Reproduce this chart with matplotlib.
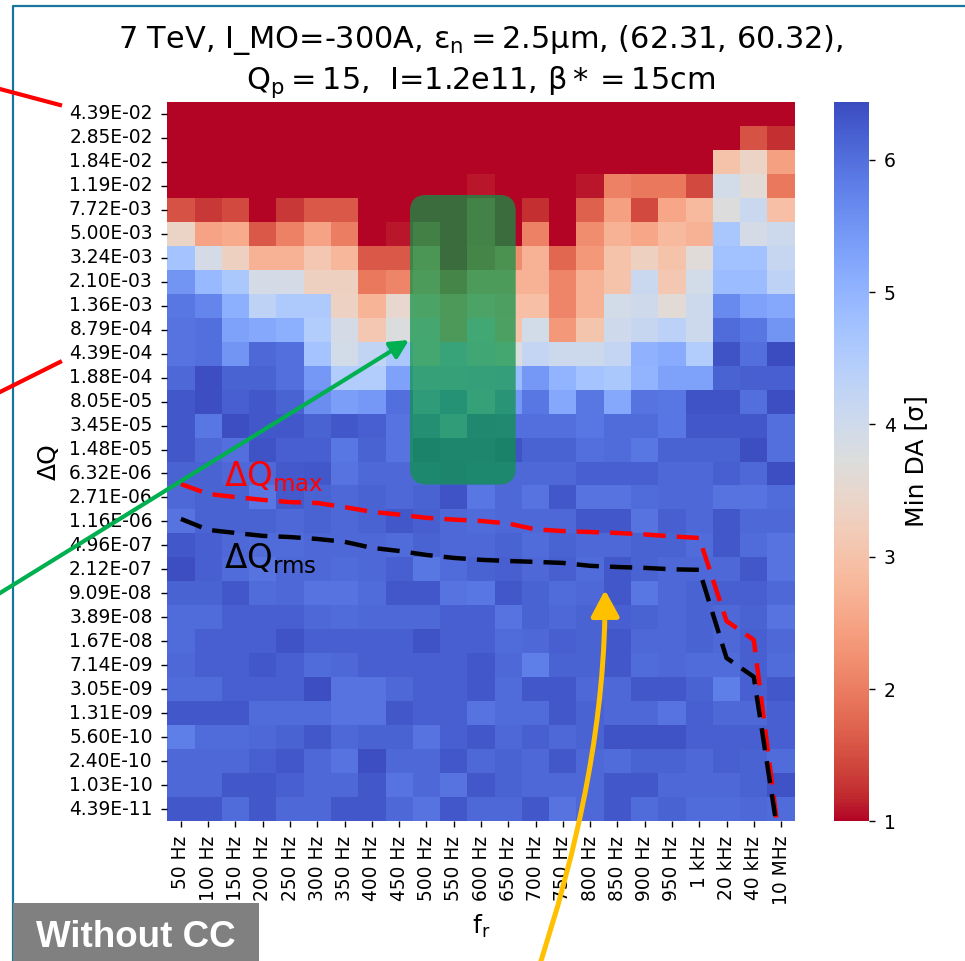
import numpy as np
import matplotlib
matplotlib.use("Agg")
import matplotlib.pyplot as plt
import seaborn as sns
from matplotlib.patches import FancyBboxPatch, FancyArrowPatch, Rectangle
from matplotlib.path import Path
from matplotlib.lines import Line2D

plt.rcParams["mathtext.default"] = "regular"

# ---------------- data ----------------
freq_labels = ["50 Hz", "100 Hz", "150 Hz", "200 Hz", "250 Hz", "300 Hz", "350 Hz",
               "400 Hz", "450 Hz", "500 Hz", "550 Hz", "600 Hz", "650 Hz", "700 Hz",
               "750 Hz", "800 Hz", "850 Hz", "900 Hz", "950 Hz", "1 kHz", "20 kHz",
               "40 kHz", "10 MHz"]

dq_values = [4.39e-2, 2.85e-2, 1.84e-2, 1.19e-2, 7.72e-3, 5.00e-3, 3.24e-3, 2.10e-3,
             1.36e-3, 8.79e-4, 4.39e-4, 1.88e-4, 8.05e-5, 3.45e-5, 1.48e-5, 6.32e-6,
             2.71e-6, 1.16e-6, 4.96e-7, 2.12e-7, 9.09e-8, 3.89e-8, 1.67e-8, 7.14e-9,
             3.05e-9, 1.31e-9, 5.60e-10, 2.40e-10, 1.03e-10, 4.39e-11]

# Min DA [sigma], rows follow dq_values (top to bottom), columns follow freq_labels
min_da = [
    [1.0, 1.0, 1.0, 1.0, 1.0, 1.0, 1.0, 1.0, 1.0, 1.0, 1.0, 1.0, 1.0, 1.0, 1.0, 1.0, 1.0, 1.0, 1.0, 1.0, 1.0, 1.0, 1.0],
    [1.0, 1.0, 1.0, 1.0, 1.0, 1.0, 1.0, 1.0, 1.0, 1.0, 1.0, 1.0, 1.0, 1.0, 1.0, 1.0, 1.0, 1.0, 1.0, 1.0, 1.0, 1.55, 1.25],
    [1.0, 1.0, 1.0, 1.0, 1.0, 1.0, 1.0, 1.0, 1.0, 1.0, 1.0, 1.0, 1.0, 1.0, 1.0, 1.0, 1.0, 1.0, 1.0, 1.0, 3.0, 3.4, 2.45],
    [1.0, 1.0, 1.0, 1.0, 1.0, 1.0, 1.0, 1.0, 1.0, 1.0, 1.0, 1.1, 1.0, 1.0, 1.0, 1.1, 2.05, 1.95, 1.95, 1.45, 3.95, 3.6, 1.95],
    [1.55, 1.3, 1.45, 1.0, 1.3, 1.6, 1.6, 1.0, 1.0, 1.0, 1.0, 1.6, 1.0, 1.25, 1.0, 1.7, 2.45, 1.45, 2.55, 2.85, 3.7, 4.1, 2.95],
    [3.4, 2.5, 2.6, 1.6, 2.05, 2.5, 2.0, 1.0, 1.1, 1.5, 1.0, 1.6, 1.0, 2.05, 1.0, 2.2, 2.7, 2.55, 2.85, 2.7, 4.65, 3.9, 4.05],
    [4.7, 3.9, 3.3, 2.7, 2.7, 3.1, 2.8, 1.6, 1.6, 2.4, 1.0, 1.7, 2.2, 2.7, 1.75, 2.35, 3.0, 3.3, 3.0, 3.65, 4.75, 4.75, 4.15],
    [5.5, 4.9, 4.6, 3.9, 3.9, 3.3, 3.3, 1.95, 2.1, 2.7, 1.7, 2.7, 2.7, 2.7, 2.1, 2.7, 3.0, 4.1, 3.1, 3.95, 4.85, 4.85, 4.3],
    [5.9, 5.7, 5.1, 4.3, 4.55, 4.55, 3.35, 2.75, 3.5, 3.2, 2.6, 3.2, 2.95, 2.95, 2.1, 2.7, 3.95, 4.0, 3.6, 4.05, 5.65, 5.3, 5.2],
    [5.95, 6.0, 5.3, 5.2, 5.1, 4.5, 3.9, 3.1, 3.75, 3.7, 2.6, 4.0, 3.0, 3.95, 2.35, 3.05, 4.0, 4.15, 4.35, 4.05, 6.05, 5.9, 5.5],
    [5.95, 6.0, 5.5, 6.1, 6.0, 4.7, 3.95, 4.25, 4.6, 3.8, 4.6, 4.1, 3.75, 4.2, 4.05, 4.05, 4.2, 5.05, 5.15, 4.5, 6.35, 6.0, 6.45],
    [6.1, 6.4, 6.15, 6.15, 6.0, 5.45, 4.5, 4.5, 5.3, 4.7, 4.7, 4.8, 4.85, 5.45, 5.0, 4.7, 4.6, 5.0, 5.3, 5.3, 6.15, 6.2, 6.2],
    [6.3, 6.4, 6.2, 6.3, 6.15, 5.6, 5.35, 5.45, 6.0, 5.1, 5.6, 4.7, 5.45, 5.9, 5.2, 5.9, 5.2, 5.95, 5.9, 6.35, 6.35, 6.0, 6.4],
    [6.3, 5.9, 6.4, 6.3, 6.3, 6.15, 6.3, 6.2, 5.95, 5.7, 5.0, 6.05, 6.0, 6.0, 6.0, 5.9, 6.05, 6.05, 5.9, 6.3, 6.3, 6.3, 6.0],
    [6.3, 6.1, 6.0, 6.35, 6.2, 6.2, 5.9, 6.15, 5.95, 6.3, 6.15, 6.15, 6.35, 6.15, 6.15, 6.0, 6.05, 5.9, 6.15, 6.15, 6.15, 6.4, 6.0],
    [6.15, 6.15, 6.1, 6.1, 6.25, 6.3, 5.95, 6.1, 6.1, 6.1, 6.2, 6.1, 6.1, 6.1, 6.1, 6.2, 6.2, 6.2, 6.1, 6.1, 6.2, 6.1, 6.4],
    [6.1, 6.15, 6.15, 5.9, 6.25, 6.15, 6.1, 6.15, 6.1, 6.15, 6.35, 5.9, 6.1, 5.95, 6.3, 5.95, 5.95, 6.05, 6.1, 6.1, 5.95, 5.95, 6.05],
    [5.95, 6.15, 6.15, 6.15, 6.1, 6.15, 6.1, 6.15, 6.3, 6.2, 6.1, 6.05, 6.1, 6.1, 6.1, 6.3, 6.3, 5.95, 6.2, 6.1, 6.3, 6.1, 6.1],
    [6.3, 6.2, 6.1, 6.05, 6.05, 6.1, 6.1, 6.1, 6.05, 6.15, 6.1, 6.1, 6.15, 6.05, 6.15, 6.1, 6.1, 6.15, 6.15, 6.05, 6.3, 6.05, 5.95],
    [6.4, 6.2, 6.05, 5.95, 6.1, 6.1, 6.05, 6.1, 6.2, 5.9, 6.05, 6.15, 6.2, 6.1, 6.2, 6.05, 6.3, 6.15, 6.1, 6.1, 6.1, 6.3, 5.95],
    [6.15, 6.15, 6.3, 6.05, 6.1, 5.95, 5.95, 6.05, 6.3, 6.3, 5.95, 5.9, 6.3, 6.15, 6.05, 6.1, 6.3, 5.9, 6.1, 6.15, 6.2, 6.2, 6.1],
    [6.05, 6.05, 6.2, 6.2, 6.2, 6.1, 6.05, 6.1, 6.1, 6.1, 6.2, 6.2, 5.95, 6.15, 6.1, 6.15, 6.2, 6.15, 6.1, 6.15, 6.1, 6.15, 5.95],
    [6.05, 6.2, 6.2, 6.2, 6.35, 6.2, 6.2, 6.2, 6.2, 6.35, 6.2, 6.2, 6.05, 6.1, 6.2, 6.15, 6.3, 6.1, 6.1, 6.15, 6.1, 6.2, 6.1],
    [6.1, 6.2, 6.2, 6.3, 6.2, 6.05, 6.1, 6.2, 6.2, 6.2, 6.2, 6.3, 6.1, 5.8, 6.15, 6.15, 6.3, 6.05, 6.1, 6.05, 6.05, 6.2, 6.05],
    [6.05, 6.05, 6.2, 6.2, 6.2, 6.4, 5.95, 5.95, 6.1, 6.2, 6.2, 6.3, 6.05, 6.3, 6.3, 6.1, 6.1, 6.3, 6.3, 6.15, 5.8, 6.2, 6.3],
    [6.3, 6.3, 6.3, 6.05, 6.05, 6.05, 5.95, 5.95, 6.3, 6.2, 6.2, 5.95, 6.05, 6.05, 6.3, 6.15, 6.1, 6.1, 5.95, 6.2, 6.1, 6.1, 6.2],
    [5.8, 6.05, 6.05, 6.1, 6.15, 6.3, 6.1, 6.15, 6.15, 5.95, 6.2, 6.3, 6.1, 6.2, 6.1, 6.15, 6.35, 6.35, 6.35, 6.2, 6.2, 6.2, 6.2],
    [6.1, 6.1, 6.1, 6.2, 6.3, 6.1, 5.95, 6.4, 6.1, 6.1, 6.3, 6.1, 6.15, 6.1, 6.3, 6.1, 6.05, 6.15, 6.15, 6.1, 6.2, 6.15, 6.05],
    [6.1, 6.1, 6.3, 6.3, 6.2, 6.1, 6.1, 6.3, 5.95, 6.1, 5.95, 6.3, 6.15, 6.1, 6.1, 6.1, 6.3, 6.3, 6.1, 6.1, 6.1, 6.15, 6.35],
    [6.3, 6.3, 6.05, 6.3, 6.1, 6.1, 6.3, 6.3, 6.1, 5.95, 6.3, 6.1, 6.1, 6.3, 5.95, 6.1, 6.3, 6.05, 6.15, 6.05, 6.05, 6.1, 6.05],
]

# tune-shift curves (one value per frequency column)
dq_max = [4.35e-6, 3.07e-6, 2.75e-6, 2.49e-6, 2.30e-6, 2.23e-6, 1.93e-6, 1.63e-6,
          1.48e-6, 1.32e-6, 1.24e-6, 1.18e-6, 1.08e-6, 8.76e-7, 8.26e-7, 7.98e-7,
          7.72e-7, 7.33e-7, 6.85e-7, 6.46e-7, 3.43e-8, 1.76e-8, 8.8e-12]
dq_rms = [1.27e-6, 8.61e-7, 7.72e-7, 6.97e-7, 6.68e-7, 6.24e-7, 5.64e-7, 4.56e-7,
          4.08e-7, 3.54e-7, 3.19e-7, 2.98e-7, 2.86e-7, 2.77e-7, 2.67e-7, 2.41e-7,
          2.31e-7, 2.24e-7, 2.13e-7, 2.09e-7, 9.30e-9, 4.76e-9, 8.8e-12]

# ---------------- figure ----------------
W, H = 965, 961
fig = plt.figure(figsize=(W / 100, H / 100), dpi=100)


def fx(px):
    return px / W


def fy(py):
    return 1 - py / H


ax = fig.add_axes([fx(167.3), fy(821.3), fx(794.7) - fx(167.3), fy(101.7) - fy(821.3)])
cax = fig.add_axes([fx(834), fy(821.3), fx(869.3) - fx(834), fy(101.7) - fy(821.3)])

sns.heatmap(np.array(min_da), ax=ax, cbar_ax=cax, cmap="coolwarm_r", vmin=1, vmax=6.44,
            xticklabels=freq_labels, yticklabels=[f"{v:.2E}" for v in dq_values],
            cbar_kws={"label": "Min DA [σ]"})

ax.tick_params(axis="both", labelsize=13.4, length=4.5, width=1, pad=6)
plt.setp(ax.get_xticklabels(), rotation=90)
plt.setp(ax.get_yticklabels(), rotation=0)
ax.set_xlabel(r"$f_r$", fontsize=18, labelpad=5)
ax.set_ylabel("ΔQ", fontsize=18, labelpad=6)
cax.tick_params(labelsize=13.5, length=4.5, width=1, pad=6)
cax.yaxis.label.set_size(18)
cax.yaxis.labelpad = 6

ax.set_title("7 TeV, I_MO=-300A, $\\epsilon_n = 2.5\\mu$m, (62.31, 60.32),\n"
             "$Q_p = 15$,  I=1.2e11, $\\beta* = 15$cm",
             fontsize=21.9, y=(821.3 - 89) / 719.6, pad=0, va="baseline",
             linespacing=1.31)

# map tune shift values onto the heatmap's row axis (log interpolation on tick values)
log_lab = np.log10(dq_values)
step = log_lab[-1] - log_lab[-2]
xp = np.concatenate([log_lab, [log_lab[-1] + 5 * step]])[::-1]
fp = np.concatenate([np.arange(len(log_lab)) + 0.5, [len(log_lab) - 0.5 + 5]])[::-1]


def dq_to_row(v):
    return np.interp(np.log10(v), xp, fp)


cols = np.arange(len(freq_labels)) + 0.5
ax.plot(cols, dq_to_row(dq_max), color="red", lw=3.2, ls=(0, (5, 2.5)))
ax.plot(cols, dq_to_row(dq_rms), color="black", lw=3.2, ls=(0, (5, 2.5)))
ax.set_xlim(0, len(freq_labels))
ax.set_ylim(len(dq_values), 0)

ax.text(2.08, 16.02, r"$\Delta Q_{max}$", color="red", fontsize=23.5,
        ha="left", va="baseline")
ax.text(2.08, 19.44, r"$\Delta Q_{rms}$", color="black", fontsize=23.5,
        ha="left", va="baseline")

# ---------------- slide decorations ----------------
tf = fig.transFigure
fig.add_artist(Line2D([fx(12.7), fx(12.7), 1.01], [-0.01, fy(5.5), fy(5.5)],
                      transform=tf, color="#17769b", lw=1.6))

fig.add_artist(FancyBboxPatch((fx(410), fy(484.5)), fx(515.7) - fx(410), fy(195) - fy(484.5),
                              boxstyle="round,pad=0,rounding_size=0.017", transform=tf,
                              facecolor=(0.05, 0.58, 0.28), alpha=0.73, edgecolor="none",
                              zorder=3))

fig.add_artist(Line2D([fx(-2), fx(60)], [fy(88.5), fy(105)], transform=tf,
                      color="red", lw=3, zorder=4))
fig.add_artist(Line2D([fx(-2), fx(60)], [fy(393), fy(362)], transform=tf,
                      color="red", lw=3, zorder=4))

fig.add_artist(FancyArrowPatch((fx(-4), fy(595.5)), (fx(409), fy(340)), transform=tf,
                               arrowstyle="-|>,head_length=0.55,head_width=0.28",
                               mutation_scale=20, color="#00b050", lw=3,
                               shrinkA=0, shrinkB=0, zorder=5))

ypath = Path([(fx(533), fy(985)), (fx(606), fy(770)), (fx(605), fy(590))],
             [Path.MOVETO, Path.CURVE3, Path.CURVE3])
fig.add_artist(FancyArrowPatch(path=ypath, transform=tf,
                               arrowstyle="-|>,head_length=0.8,head_width=0.43",
                               mutation_scale=20, color="#ffc000", lw=3.6, zorder=5))

fig.add_artist(Rectangle((fx(13.3), 0), fx(258.7) - fx(13.3), fy(903.3), transform=tf,
                         facecolor="#808080", edgecolor="none", zorder=4))
fig.text(fx(136), fy(946.7), "Without CC", color="white", fontweight="bold",
         family=["Liberation Sans", "DejaVu Sans"], fontsize=26.5, ha="center",
         va="baseline", zorder=6)

fig.savefig("out.png", dpi=100)
